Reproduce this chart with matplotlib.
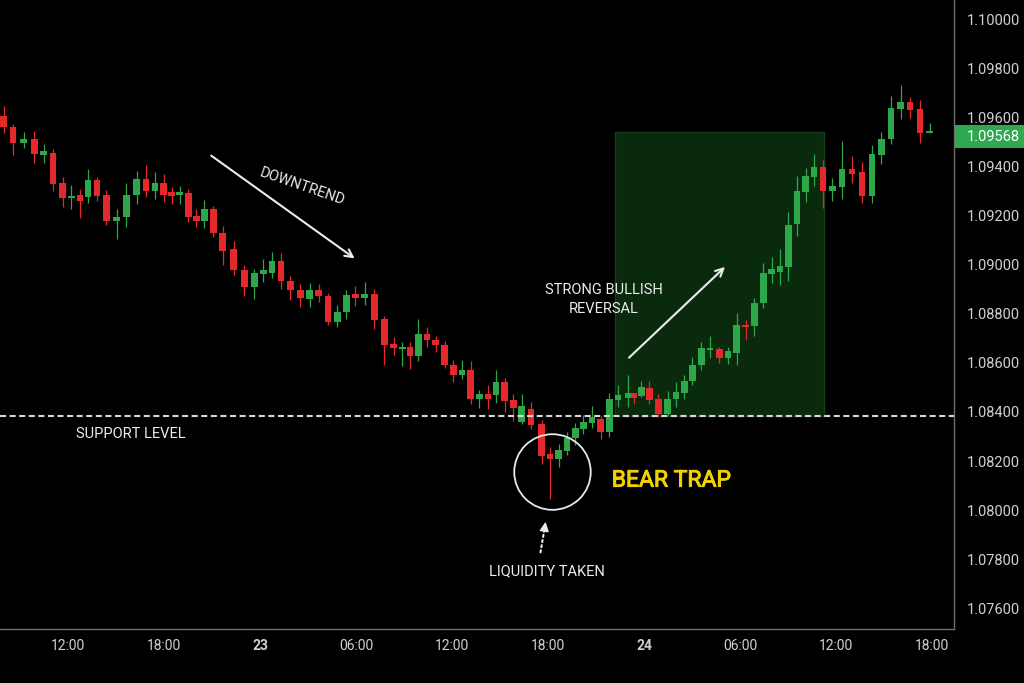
import matplotlib.pyplot as plt
import matplotlib.transforms as mtransforms
import matplotlib.patheffects as pe
from matplotlib.patches import Rectangle, Ellipse
import numpy as np

# candle times in hours from the 22nd 00:00, as placed in the picture
times = [7.98, 8.56, 9.23, 9.89, 10.48, 11.06, 11.67, 12.21, 12.75, 13.25,
         13.81, 14.39, 15.04, 15.64, 16.29, 16.88, 17.44, 17.98, 18.48, 18.98,
         19.52, 20.02, 20.52, 21.08, 21.67, 22.36, 23.02, 23.64, 24.21, 24.75,
         25.31, 25.89, 26.52, 27.11, 27.67, 28.25, 28.83, 29.39, 29.96, 30.54,
         31.14, 31.77, 32.36, 32.89, 33.38, 33.89, 34.44, 34.98, 35.54, 36.08,
         36.63, 37.17, 37.71, 38.25, 38.75, 39.29, 39.83, 40.36, 40.94, 41.61,
         42.13, 42.67, 43.19, 43.71, 44.21, 44.75, 45.29, 45.83, 46.38, 47.00,
         47.38, 47.84, 48.33, 48.89, 49.48, 50.00, 50.52, 51.02, 51.58, 52.13,
         52.71, 53.25, 53.79, 54.36, 54.89, 55.46, 55.98, 56.50, 57.02, 57.56,
         58.11, 58.63, 59.19, 59.77, 60.38, 61.00, 61.63, 62.25, 62.83, 63.44,
         64.04, 64.63, 65.25, 65.86]
opens = [1.09608, 1.09563, 1.09497, 1.09514, 1.09450, 1.09458, 1.09335, 1.09275, 1.09284, 1.09279,
         1.09347, 1.09284, 1.09181, 1.09195, 1.09284, 1.09350, 1.09303, 1.09333, 1.09297, 1.09284,
         1.09295, 1.09200, 1.09178, 1.09229, 1.09131, 1.09064, 1.08980, 1.08910, 1.08962, 1.08968,
         1.09016, 1.08935, 1.08899, 1.08862, 1.08899, 1.08875, 1.08767, 1.08808, 1.08882, 1.08864,
         1.08882, 1.08778, 1.08676, 1.08658, 1.08665, 1.08630, 1.08717, 1.08694, 1.08675, 1.08593,
         1.08550, 1.08571, 1.08452, 1.08473, 1.08468, 1.08521, 1.08449, 1.08360, 1.08412, 1.08350,
         1.08230, 1.08209, 1.08242, 1.08292, 1.08330, 1.08354, 1.08371, 1.08317, 1.08449, 1.08458,
         1.08476, 1.08465, 1.08499, 1.08452, 1.08390, 1.08452, 1.08479, 1.08526, 1.08592, 1.08652,
         1.08658, 1.08619, 1.08639, 1.08755, 1.08751, 1.08844, 1.08963, 1.08971, 1.08992, 1.09166,
         1.09299, 1.09360, 1.09401, 1.09303, 1.09317, 1.09391, 1.09380, 1.09283, 1.09450, 1.09514,
         1.09638, 1.09665, 1.09635, 1.09540]
highs = [1.09649, 1.09575, 1.09544, 1.09547, 1.09493, 1.09472, 1.09358, 1.09325, 1.09310, 1.09391,
         1.09358, 1.09306, 1.09229, 1.09333, 1.09384, 1.09409, 1.09378, 1.09371, 1.09318, 1.09324,
         1.09309, 1.09229, 1.09265, 1.09242, 1.09158, 1.09098, 1.09001, 1.08984, 1.09024, 1.09052,
         1.09048, 1.08954, 1.08924, 1.08925, 1.08924, 1.08887, 1.08835, 1.08898, 1.08915, 1.08929,
         1.08901, 1.08792, 1.08707, 1.08687, 1.08684, 1.08780, 1.08746, 1.08710, 1.08690, 1.08612,
         1.08613, 1.08607, 1.08491, 1.08510, 1.08571, 1.08537, 1.08475, 1.08473, 1.08442, 1.08367,
         1.08258, 1.08269, 1.08317, 1.08356, 1.08386, 1.08426, 1.08385, 1.08476, 1.08511, 1.08551,
         1.08479, 1.08526, 1.08528, 1.08472, 1.08487, 1.08521, 1.08550, 1.08623, 1.08684, 1.08710,
         1.08664, 1.08666, 1.08803, 1.08775, 1.08864, 1.09010, 1.09033, 1.09065, 1.09216, 1.09364,
         1.09396, 1.09452, 1.09429, 1.09356, 1.09507, 1.09445, 1.09419, 1.09490, 1.09544, 1.09690,
         1.09733, 1.09687, 1.09673, 1.09578]
lows = [1.09540, 1.09449, 1.09479, 1.09415, 1.09415, 1.09303, 1.09238, 1.09227, 1.09192, 1.09252,
        1.09261, 1.09163, 1.09107, 1.09156, 1.09250, 1.09276, 1.09268, 1.09257, 1.09250, 1.09248,
        1.09177, 1.09155, 1.09150, 1.09115, 1.09001, 1.08960, 1.08875, 1.08862, 1.08932, 1.08948,
        1.08903, 1.08857, 1.08830, 1.08830, 1.08849, 1.08755, 1.08748, 1.08781, 1.08833, 1.08837,
        1.08739, 1.08593, 1.08633, 1.08588, 1.08574, 1.08609, 1.08666, 1.08644, 1.08578, 1.08523,
        1.08533, 1.08431, 1.08416, 1.08412, 1.08437, 1.08400, 1.08362, 1.08351, 1.08330, 1.08189,
        1.08043, 1.08177, 1.08223, 1.08265, 1.08310, 1.08335, 1.08288, 1.08299, 1.08421, 1.08421,
        1.08433, 1.08462, 1.08433, 1.08381, 1.08385, 1.08421, 1.08454, 1.08509, 1.08571, 1.08620,
        1.08601, 1.08595, 1.08590, 1.08694, 1.08710, 1.08826, 1.08928, 1.08917, 1.08935, 1.09120,
        1.09256, 1.09322, 1.09234, 1.09260, 1.09268, 1.09336, 1.09253, 1.09253, 1.09411, 1.09494,
        1.09597, 1.09599, 1.09499, 1.09540]
closes = [1.09562, 1.09497, 1.09514, 1.09452, 1.09464, 1.09332, 1.09275, 1.09283, 1.09262, 1.09347,
          1.09282, 1.09181, 1.09197, 1.09286, 1.09350, 1.09303, 1.09333, 1.09287, 1.09283, 1.09297,
          1.09197, 1.09178, 1.09229, 1.09132, 1.09058, 1.08980, 1.08910, 1.08966, 1.08981, 1.09017,
          1.08935, 1.08898, 1.08864, 1.08899, 1.08875, 1.08767, 1.08809, 1.08877, 1.08864, 1.08882,
          1.08775, 1.08673, 1.08660, 1.08666, 1.08630, 1.08717, 1.08694, 1.08673, 1.08593, 1.08550,
          1.08571, 1.08452, 1.08472, 1.08452, 1.08522, 1.08446, 1.08415, 1.08423, 1.08347, 1.08220,
          1.08209, 1.08245, 1.08292, 1.08333, 1.08359, 1.08378, 1.08318, 1.08452, 1.08469, 1.08476,
          1.08458, 1.08501, 1.08449, 1.08390, 1.08453, 1.08483, 1.08528, 1.08593, 1.08662, 1.08662,
          1.08619, 1.08649, 1.08755, 1.08746, 1.08844, 1.08966, 1.08984, 1.08995, 1.09163, 1.09302,
          1.09363, 1.09401, 1.09303, 1.09321, 1.09391, 1.09371, 1.09283, 1.09453, 1.09514, 1.09641,
          1.09665, 1.09634, 1.09540, 1.09542]

tick_hours = [12, 18, 24, 30, 36, 42, 48, 54, 60, 66]
tick_labels = ['12:00', '18:00', '23', '06:00', '12:00', '18:00', '24', '06:00', '12:00', '18:00']
price_ticks = [1.076, 1.078, 1.080, 1.082, 1.084, 1.086, 1.088, 1.090, 1.092, 1.094, 1.096, 1.098, 1.100]

support = 1.08384
last_price = 1.09568
zone_start, zone_end, zone_top = 46.19, 59.25, 1.09544

GREEN = '#2ea64a'
RED = '#e5282b'
TXT = '#ececec'
YELLOW = '#f2d100'

plt.rcParams['font.family'] = ['Roboto', 'DejaVu Sans']

fig = plt.figure(figsize=(10.24, 6.83), dpi=100, facecolor='black')
ax = fig.add_axes([0, 54 / 683, 954 / 1024, 629 / 683])
ax.set_facecolor('black')

t = np.array(times)
o = np.array(opens)
h = np.array(highs)
l = np.array(lows)
c = np.array(closes)
colors = np.where(c >= o, GREEN, RED)

# reversal zone
ax.add_patch(Rectangle((zone_start, support), zone_end - zone_start, zone_top - support,
                       facecolor='#0a2a0e', edgecolor='#15401a', lw=1, zorder=1))

ax.vlines(t, l, h, colors=colors, lw=0.9, zorder=3)
ax.bar(t, np.maximum(np.abs(c - o), 0.00005), bottom=np.minimum(o, c), width=0.42,
       color=colors, linewidth=0, zorder=4)

ax.axhline(support, color='#d8d8d8', lw=1.5, ls=(0, (2.9, 1.7)), zorder=5)

# annotations
ax.text(26.63, 1.09318, 'DOWNTREND', color=TXT, fontsize=10.5, rotation=-19,
        ha='center', va='center', rotation_mode='anchor')
ax.annotate('', xy=(30.06, 1.09020), xytext=(20.81, 1.09453),
            arrowprops=dict(arrowstyle='->', color=TXT, lw=1.5, mutation_scale=14))
ax.text(45.47, 1.08861, 'STRONG BULLISH\nREVERSAL', color=TXT, fontsize=10.5,
        ha='center', va='center', linespacing=1.45)
ax.annotate('', xy=(53.19, 1.09000), xytext=(46.94, 1.08614),
            arrowprops=dict(arrowstyle='->', color=TXT, lw=1.5, mutation_scale=14))
ax.text(12.5, 1.08310, 'SUPPORT LEVEL', color=TXT, fontsize=10.5, ha='left', va='center')
ax.text(45.98, 1.08122, 'BEAR TRAP', color=YELLOW, fontsize=16.5, ha='left', va='center',
        path_effects=[pe.Stroke(linewidth=0.7, foreground=YELLOW), pe.Normal()])
ax.add_patch(Ellipse((42.28, 1.08155), 4.78, 0.003086, fill=False, edgecolor='#e8e8e8',
                     lw=1.3, zorder=6))
ax.annotate('', xy=(41.84, 1.07945), xytext=(41.5, 1.07816),
            arrowprops=dict(arrowstyle='-', color=TXT, lw=1.5, ls=(0, (1, 1.5))))
ax.annotate('', xy=(41.875, 1.07963), xytext=(41.8, 1.07930),
            arrowprops=dict(arrowstyle='-|>', color=TXT, lw=1, mutation_scale=14))
ax.text(41.94, 1.07748, 'LIQUIDITY TAKEN', color=TXT, fontsize=10.5, ha='center', va='center')

ax.set_xlim(7.75, 67.375)
ax.set_ylim(1.075143, 1.100816)

for s in ['top', 'left']:
    ax.spines[s].set_visible(False)
for s in ['right', 'bottom']:
    ax.spines[s].set_color('#6e6e6e')
    ax.spines[s].set_linewidth(1)

ax.yaxis.tick_right()
ax.set_yticks(price_ticks)
ax.set_yticklabels([f'{p:.5f}' for p in price_ticks])
ax.set_xticks(tick_hours)
ax.set_xticklabels(tick_labels)
ax.tick_params(axis='y', length=0, pad=9.4, labelcolor='#d0d0d0', labelsize=10.5)
ax.tick_params(axis='x', length=0, pad=7, labelcolor='#d0d0d0', labelsize=10)
for lab in ax.get_xticklabels():
    if lab.get_text() in ('23', '24'):
        lab.set_fontweight('bold')

# current price tag
trans = mtransforms.blended_transform_factory(fig.transFigure, ax.transData)
label_y = 1.09524
box_h = 23 / 24500
fig.add_artist(Rectangle((955 / 1024, label_y - box_h / 2), 69 / 1024, box_h,
                         transform=trans, facecolor='#2fa84f', edgecolor='none', clip_on=False))
fig.text(967 / 1024, label_y, f'{last_price:.5f}', transform=trans, color='white',
         fontsize=10.5, ha='left', va='center')

fig.savefig('out.png', dpi=100, facecolor='black')
